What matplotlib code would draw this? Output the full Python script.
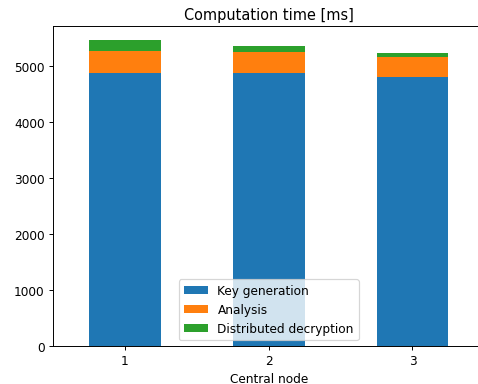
import matplotlib
matplotlib.use("Agg")
import matplotlib.pyplot as plt
import numpy as np

nodes = ["1", "2", "3"]
key_generation = [4863, 4863, 4804]
analysis = [400, 370, 351]
decryption = [190, 113, 77]

dpi = 87
fig = plt.figure(figsize=(478 / dpi, 385 / dpi), dpi=dpi)
ax = fig.add_axes([53 / 478, 38 / 385, 431.4 / 478, 319.7 / 385])

x = np.arange(len(nodes))
w = 0.5
ax.bar(x, key_generation, w, label="Key generation", color="#1f77b4")
bottom = np.array(key_generation)
ax.bar(x, analysis, w, bottom=bottom, label="Analysis", color="#ff7f0e")
bottom = bottom + np.array(analysis)
ax.bar(x, decryption, w, bottom=bottom, label="Distributed decryption", color="#2ca02c")

ax.set_xticks(x)
ax.set_xticklabels(nodes)
ax.set_xlim(-0.5, 2.5)
ax.set_ylim(0, 5700)
ax.set_xlabel("Central node")
ax.set_title("Computation time [ms]")
ax.legend(loc="lower center")

fig.savefig("out.png", dpi=dpi)
